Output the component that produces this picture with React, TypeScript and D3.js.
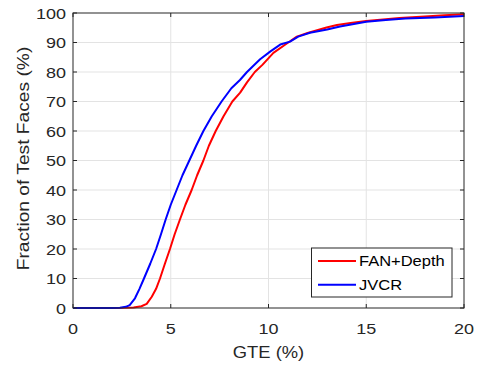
import React, { useRef, useEffect } from 'react';
import * as d3 from 'd3';

// GTE (%) vs fraction of test faces (%)
const fanDepthGte = [0, 2.0, 2.6, 3.1, 3.5, 3.77, 4.03, 4.25, 4.45, 4.7, 4.96, 5.2, 5.47, 5.75, 6.07, 6.35, 6.67, 6.95, 7.3, 7.7, 8.15, 8.55, 8.9, 9.3, 9.7, 10.25, 10.9, 11.45, 12.0, 12.97, 13.5, 14.2, 15.0, 16.0, 16.7, 18.0, 19.0, 20];
const fanDepthFrac = [0, 0, 0.05, 0.2, 0.6, 1.4, 3.8, 6.5, 10, 15, 20, 25, 30, 35, 40, 45, 50, 55, 60, 65, 70, 73, 76.5, 80, 82.5, 86.5, 89.5, 92, 93.2, 95.1, 95.9, 96.6, 97.3, 97.9, 98.3, 98.8, 99.2, 99.6];

const jvcrGte = [0, 2.0, 2.4, 2.7, 2.9, 3.17, 3.4, 3.63, 3.95, 4.25, 4.5, 4.74, 5.0, 5.3, 5.6, 5.95, 6.3, 6.67, 7.1, 7.6, 8.1, 8.54, 8.9, 9.57, 10.1, 10.6, 11.1, 11.52, 12.12, 13.0, 13.66, 15.0, 16.0, 17.0, 18.5, 20];
const jvcrFrac = [0, 0, 0.1, 0.4, 1, 3.3, 6.5, 10, 15, 20, 25, 30, 35, 40, 45, 50, 55, 60, 65, 70, 74.5, 77.3, 80, 84.3, 87, 89.3, 90.3, 92, 93.3, 94.4, 95.4, 97.0, 97.6, 98.1, 98.5, 99.0];

const xTicks = [0, 5, 10, 15, 20];
const yTicks = [0, 10, 20, 30, 40, 50, 60, 70, 80, 90, 100];

const seriesNames = ['FAN+Depth', 'JVCR'];
const seriesColors = ['#ff0000', '#0000ff'];

const FONT = '"Liberation Sans", Arial, Helvetica, sans-serif';
const INK = '#262626';

const App: React.FC = () => {
  const ref = useRef<SVGSVGElement | null>(null);

  useEffect(() => {
    const width = 479;
    const height = 367;
    const margin = { top: 13, right: 15, bottom: 59, left: 73 };

    const svg = d3.select(ref.current);
    svg.selectAll('*').remove();
    svg.attr('width', width).attr('height', height);

    const x = d3.scaleLinear().domain([0, 20]).range([margin.left, width - margin.right]);
    const y = d3.scaleLinear().domain([0, 100]).range([height - margin.bottom, margin.top]);

    const x0 = x(0), x1 = x(20), y0 = y(0), y1 = y(100);

    // grid
    const grid = svg.append('g').attr('stroke', '#e3e3e3').attr('stroke-width', 1);
    xTicks.slice(1, -1).forEach(t => {
      grid.append('line').attr('x1', x(t)).attr('x2', x(t)).attr('y1', y0).attr('y2', y1);
    });
    yTicks.slice(1, -1).forEach(t => {
      grid.append('line').attr('x1', x0).attr('x2', x1).attr('y1', y(t)).attr('y2', y(t));
    });

    // curves
    const line = d3.line<[number, number]>()
      .x(d => x(d[0]))
      .y(d => y(d[1]));

    const series = [
      d3.zip(fanDepthGte, fanDepthFrac) as [number, number][],
      d3.zip(jvcrGte, jvcrFrac) as [number, number][],
    ];
    series.forEach((s, i) => {
      svg.append('path')
        .attr('d', line(s))
        .attr('fill', 'none')
        .attr('stroke', seriesColors[i])
        .attr('stroke-width', 2)
        .attr('stroke-linejoin', 'round');
    });

    // box + ticks
    const axes = svg.append('g').attr('stroke', INK).attr('stroke-width', 1).attr('fill', 'none');
    axes.append('rect').attr('x', x0).attr('y', y1).attr('width', x1 - x0).attr('height', y0 - y1);
    const tl = 4;
    xTicks.forEach(t => {
      axes.append('line').attr('x1', x(t)).attr('x2', x(t)).attr('y1', y0).attr('y2', y0 - tl);
      axes.append('line').attr('x1', x(t)).attr('x2', x(t)).attr('y1', y1).attr('y2', y1 + tl);
    });
    yTicks.forEach(t => {
      axes.append('line').attr('x1', x0).attr('x2', x0 + tl).attr('y1', y(t)).attr('y2', y(t));
      axes.append('line').attr('x1', x1).attr('x2', x1 - tl).attr('y1', y(t)).attr('y2', y(t));
    });

    // tick labels
    const labels = svg.append('g').attr('fill', INK).style('font-family', FONT);
    xTicks.forEach(t => {
      labels.append('text')
        .attr('transform', `translate(${x(t)},${y0 + 26}) scale(1.16,1)`)
        .attr('text-anchor', 'middle')
        .style('font-size', '15.5px')
        .text(t);
    });
    yTicks.forEach(t => {
      labels.append('text')
        .attr('transform', `translate(${x0 - 7},${y(t)}) scale(1.16,1)`)
        .attr('text-anchor', 'end')
        .attr('dy', '0.36em')
        .style('font-size', '15.5px')
        .text(t);
    });

    // axis labels
    labels.append('text')
      .attr('transform', `translate(${(x0 + x1) / 2},${y0 + 50}) scale(1.08,1)`)
      .attr('text-anchor', 'middle')
      .style('font-size', '17px')
      .text('GTE (%)');

    labels.append('text')
      .attr('transform', `translate(29,${(y0 + y1) / 2 - 2}) rotate(-90) scale(1.13,1)`)
      .attr('text-anchor', 'middle')
      .style('font-size', '17px')
      .text('Fraction of Test Faces (%)');

    // legend
    const lg = svg.append('g');
    lg.append('rect')
      .attr('x', 311.5).attr('y', 248)
      .attr('width', 140.5).attr('height', 49)
      .attr('fill', '#fff')
      .attr('stroke', INK)
      .attr('stroke-width', 1);
    seriesNames.forEach((name, i) => {
      const ly = 261 + i * 23.7;
      lg.append('line')
        .attr('x1', 318).attr('x2', 356)
        .attr('y1', ly).attr('y2', ly)
        .attr('stroke', seriesColors[i])
        .attr('stroke-width', 2);
      lg.append('text')
        .attr('transform', `translate(359,${ly}) scale(1.1,1)`)
        .attr('dy', '0.36em')
        .attr('fill', '#000')
        .style('font-family', FONT)
        .style('font-size', '15px')
        .text(name);
    });
  }, []);

  return (
    <svg ref={ref} style={{ position: 'absolute', left: 0, top: 0, background: '#fff' }}></svg>
  );
};

export default App;
